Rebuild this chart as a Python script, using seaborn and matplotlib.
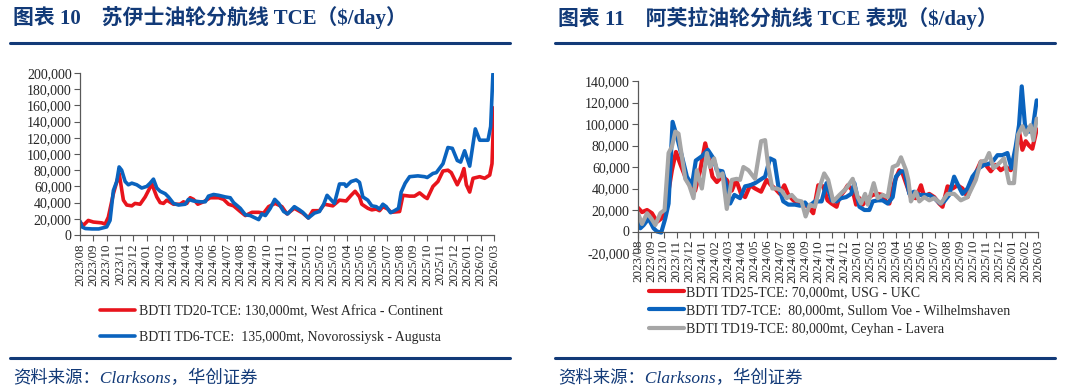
import numpy as np
import pandas as pd
import matplotlib
matplotlib.use("Agg")
import matplotlib.pyplot as plt
import seaborn as sns
from matplotlib.lines import Line2D
from matplotlib.ticker import FuncFormatter, MultipleLocator

sns.set_theme(style="white")
plt.rcParams["font.family"] = ["Liberation Serif", "Noto Sans CJK SC"]

# ---------------- data (values in $1,000/day; time in months since 2023/08) ----------------
month_labels = list(pd.date_range("2023-08-01", "2026-03-01", freq="MS").strftime("%Y/%m"))

td20_t = [0, 0.25, 0.62, 1.0, 1.62, 1.88, 2.12, 2.5, 2.93, 3.25, 3.5, 3.88, 4.12, 4.5, 4.88, 5.38, 5.75, 6.0, 6.25, 6.5,
          7.0, 7.5, 7.75, 8.0, 8.25, 8.5, 8.82, 9.25, 9.75, 10.38, 10.75, 11.12, 11.5, 12.0, 12.38, 12.88, 13.38, 13.75, 14.12, 14.62,
          15.12, 15.5, 16.05, 16.68, 17.1, 17.43, 17.93, 18.3, 18.93, 19.43, 19.93, 20.3, 20.6, 20.93, 21.1, 21.55, 21.85, 22.18, 22.43, 22.68,
          23.05, 23.3, 23.93, 24.18, 24.68, 25.05, 25.43, 25.8, 26.0, 26.43, 26.8, 27.18, 27.55, 27.8, 28.25, 28.55, 28.75, 28.93, 29.18, 29.43,
          29.93, 30.3, 30.68, 30.85, 31.0]
td20_v = [16, 12, 18, 16, 15, 13.5, 22, 51, 76, 43, 37, 36, 39, 38, 47, 63, 47, 40, 39, 43,
          38, 38, 41, 39, 46, 44, 38, 41, 46, 46, 44, 38, 36, 29, 24, 28, 28, 27, 35, 39,
          35, 26, 33, 27, 21, 30, 30, 38, 36, 43, 42, 49, 54, 47, 38, 33, 31, 32, 30, 35,
          32, 28, 29, 49, 48, 48, 52, 47, 45, 60, 66, 79, 80, 77, 62, 72, 82, 62, 53, 70,
          72, 70, 74, 88, 157]

td6_t = [0, 0.15, 0.4, 0.9, 1.4, 2.0, 2.25, 2.5, 2.75, 2.93, 3.12, 3.38, 3.62, 3.88, 4.25, 4.62, 5.0, 5.25, 5.5, 5.75,
         6.0, 6.38, 6.62, 7.0, 7.38, 7.88, 8.12, 8.5, 9.0, 9.38, 9.62, 10.0, 10.38, 10.88, 11.25, 11.5, 12.0, 12.38, 12.75, 13.0,
         13.38, 13.62, 13.88, 14.25, 14.58, 14.88, 15.25, 15.55, 16.05, 16.43, 16.68, 17.1, 17.55, 17.93, 18.25, 18.5, 19.05, 19.43, 19.8, 19.93,
         20.3, 20.68, 20.93, 21.18, 21.55, 21.85, 22.18, 22.43, 22.68, 22.93, 23.25, 23.55, 23.85, 24.05, 24.35, 24.68, 25.3, 25.8, 26.0, 26.43,
         26.68, 27.18, 27.55, 27.88, 28.25, 28.5, 28.8, 29.18, 29.6, 29.93, 30.55, 30.75, 30.92]
td6_v = [17, 10, 8, 7.5, 7.5, 10, 18, 55, 66, 84, 80, 66, 62, 64, 62, 58, 60, 64, 69, 58,
         54, 51, 47, 39, 37, 38, 44, 42, 41, 41, 48, 50, 49, 47, 46, 40, 33, 25, 24, 22,
         19, 26, 24, 33, 44, 39, 29, 26, 35, 31, 28, 21, 27, 29, 38, 49, 39, 63, 63, 60,
         66, 68, 65, 47, 43, 36, 35, 32, 38, 35, 27.5, 30, 33, 53, 64, 72, 73, 72, 71, 76,
         77, 88, 108, 107, 92, 90, 104, 85, 131, 117, 117, 134, 199]

td25_t = [0, 0.31, 0.7, 1.08, 1.47, 1.8, 2.11, 2.37, 2.63, 2.94, 3.27, 3.66, 4.05, 4.43, 4.82, 5.21, 5.52, 5.77, 6.11, 6.49,
          6.88, 7.27, 7.6, 7.99, 8.3, 8.69, 9.07, 9.54, 9.97, 10.31, 10.62, 11.0, 11.34, 11.65, 12.04, 12.42, 12.81, 13.2, 13.58, 13.97,
          14.36, 14.69, 15.0, 15.39, 15.61, 16.0, 16.26, 16.64, 16.9, 17.16, 17.42, 17.8, 18.19, 18.58, 18.96, 19.22, 19.48, 19.87, 20.25, 20.51,
          20.77, 21.15, 21.54, 21.93, 22.19, 22.57, 22.96, 23.35, 23.6, 23.99, 24.38, 24.76, 25.15, 25.54, 26.05, 26.57, 26.95, 27.34, 27.73, 28.11,
          28.5, 28.89, 29.27, 29.53, 29.79, 30.05, 30.3, 30.56, 30.9]
td25_v = [22, 18, 20, 17, 9, 12, 20, 38, 57, 74, 63, 51, 42, 38, 57, 82, 66, 51, 46, 51,
          48, 38, 48, 35, 32, 43, 40, 37, 48, 43, 40, 35, 43, 34, 29, 26, 25, 23, 17, 43,
          42, 29, 26, 23, 32, 38, 43, 38, 25, 31, 25, 31, 34, 35, 34, 28, 26, 46, 57, 54,
          45, 32, 31, 43, 32, 35, 32, 26, 23, 42, 40, 43, 40, 32, 51, 65, 62, 56, 62, 57,
          60, 57, 73, 93, 76, 84, 80, 77, 95]

td7_t = [0, 0.18, 0.44, 0.82, 1.21, 1.47, 1.8, 2.11, 2.37, 2.68, 3.02, 3.4, 3.79, 4.18, 4.48, 4.95, 5.41, 5.85, 6.11, 6.55,
         6.88, 7.14, 7.47, 7.91, 8.3, 8.69, 9.07, 9.46, 9.85, 10.23, 10.57, 10.88, 11.26, 11.65, 12.16, 12.55, 12.94, 13.2, 13.71, 14.23,
         14.61, 15.0, 15.39, 15.74, 16.13, 16.52, 16.77, 17.16, 17.55, 17.93, 18.19, 18.58, 18.96, 19.35, 19.74, 19.99, 20.38, 20.64, 21.03, 21.41,
         21.8, 22.57, 22.96, 23.42, 23.73, 24.12, 24.5, 24.81, 25.15, 25.54, 25.92, 26.44, 26.82, 27.21, 27.55, 27.86, 28.24, 28.63, 28.94, 29.27,
         29.53, 29.74, 29.99, 30.25, 30.56, 30.9]
td7_v = [8, 3, 6, 12, 3, 0, -1, 12, 26, 102, 88, 70, 51, 43, 66, 70, 76, 68, 57, 56,
         42, 26, 34, 31, 42, 43, 45, 48, 51, 68, 66, 42, 28, 25, 25, 24, 27, 23, 28, 28,
         45, 29, 28, 31, 32, 35, 45, 23, 20, 20, 28, 29, 29, 26, 32, 51, 56, 56, 35, 37,
         34, 34, 31, 26, 28, 34, 51, 43, 35, 40, 51, 59, 62, 63, 66, 71, 71, 73, 59, 79,
         99, 135, 99, 93, 93, 122]

td19_t = [0, 0.31, 0.7, 1.03, 1.34, 1.73, 2.06, 2.37, 2.63, 2.89, 3.14, 3.4, 3.66, 3.97, 4.3, 4.56, 4.95, 5.34, 5.59, 5.9,
          6.24, 6.55, 6.88, 7.27, 7.65, 7.91, 8.17, 8.56, 9.07, 9.54, 9.85, 10.1, 10.41, 10.75, 11.13, 11.52, 11.91, 12.29, 12.68, 12.99,
          13.32, 13.71, 14.1, 14.43, 14.74, 15.13, 15.61, 16.13, 16.64, 17.03, 17.29, 17.6, 17.8, 18.27, 18.58, 18.96, 19.35, 19.74, 20.12, 20.38,
          20.77, 20.95, 21.15, 21.54, 21.8, 22.19, 22.57, 22.96, 23.47, 23.99, 24.5, 25.02, 25.54, 26.18, 26.57, 26.95, 27.21, 27.55, 27.86, 28.37,
          28.76, 29.14, 29.45, 29.79, 30.05, 30.43, 30.64, 30.9]
td19_v = [17, 7, 17, 12, 6, 17, 20, 73, 79, 93, 91, 70, 49, 43, 31, 57, 40, 73, 60, 68,
          51, 54, 21, 48, 49, 48, 60, 57, 49, 84, 85, 60, 40, 40, 38, 31, 34, 29, 28, 14,
          25, 23, 42, 54, 48, 28, 34, 40, 49, 32, 26, 35, 25, 45, 31, 34, 32, 60, 62, 69,
          57, 48, 28, 37, 28, 32, 29, 31, 26, 35, 35, 29, 32, 48, 65, 66, 73, 59, 62, 68,
          45, 45, 90, 98, 90, 99, 85, 105]

left_labels = ["BDTI TD20-TCE: 130,000mt, West Africa - Continent",
               "BDTI TD6-TCE:  135,000mt, Novorossiysk - Augusta"]
right_labels = ["BDTI TD25-TCE: 70,000mt, USG - UKC",
                "BDTI TD7-TCE:  80,000mt, Sullom Voe - Wilhelmshaven",
                "BDTI TD19-TCE: 80,000mt, Ceyhan - Lavera"]
titles = ["图表 10    苏伊士油轮分航线 TCE（$/day）", "图表 11    阿芙拉油轮分航线 TCE 表现（$/day）"]
source = "资料来源：Clarksons，华创证券"

RED, BLUE, GRAY = "#E8141C", "#0A63BE", "#A6A6A6"
NAVY = "#123A78"
TXT = "#262626"

W, H = 1080, 390
fig = plt.figure(figsize=(W / 100, H / 100), dpi=100)


def fx(px):
    return px / W


def fy(py):
    return 1 - py / H


def style_axes(ax, ymin, ymax, zero_spine=False):
    for s in ["top", "right"]:
        ax.spines[s].set_visible(False)
    for s in ["left", "bottom"]:
        ax.spines[s].set_color("#595959")
        ax.spines[s].set_linewidth(0.9)
    if zero_spine:
        ax.spines["bottom"].set_position(("data", 0))
    ax.set_xlim(0, 31)
    ax.set_ylim(ymin, ymax)
    ax.set_xticks(range(len(month_labels)))
    ax.set_xticklabels(month_labels, rotation=90, fontsize=9.4, color=TXT)
    ax.yaxis.set_major_locator(MultipleLocator(20000))
    ax.yaxis.set_major_formatter(FuncFormatter(lambda v, p: f"{v:,.0f}"))
    ax.tick_params(axis="y", labelsize=10)
    ax.tick_params(axis="both", which="major", direction="out", length=4, width=0.8,
                   color="#595959", labelcolor=TXT, pad=2, bottom=True, left=True)
    ax.set_xlabel("")
    ax.set_ylabel("")
    ax.grid(False)
    ax.set_facecolor("none")


# ---------------- left chart ----------------
axL = fig.add_axes([fx(80), fy(235), fx(494) - fx(80), fy(73) - fy(235)])
sns.lineplot(x=td20_t, y=np.array(td20_v) * 1000, ax=axL, color=RED, lw=2.6, sort=False, estimator=None)
sns.lineplot(x=td6_t, y=np.array(td6_v) * 1000, ax=axL, color=BLUE, lw=2.6, sort=False, estimator=None)
style_axes(axL, 0, 200000)

hL = [Line2D([], [], color=RED, lw=2.6), Line2D([], [], color=BLUE, lw=2.6)]
fig.legend(hL, left_labels, loc="upper left", bbox_to_anchor=(fx(100), fy(305)), frameon=False,
           fontsize=10, handlelength=2.5, handletextpad=0.3, labelspacing=0.9, borderpad=0,
           borderaxespad=0, labelcolor=TXT)

# ---------------- right chart ----------------
axR = fig.add_axes([fx(638), fy(253), fx(1038) - fx(638), fy(81) - fy(253)])
sns.lineplot(x=td25_t, y=np.array(td25_v) * 1000, ax=axR, color=RED, lw=3.0, sort=False, estimator=None)
sns.lineplot(x=td7_t, y=np.array(td7_v) * 1000, ax=axR, color=BLUE, lw=3.0, sort=False, estimator=None)
sns.lineplot(x=td19_t, y=np.array(td19_v) * 1000, ax=axR, color=GRAY, lw=3.0, sort=False, estimator=None)
style_axes(axR, -20000, 140000, zero_spine=True)

hR = [Line2D([], [], color=RED, lw=3), Line2D([], [], color=BLUE, lw=3), Line2D([], [], color=GRAY, lw=3)]
fig.legend(hR, right_labels, loc="upper left", bbox_to_anchor=(fx(649), fy(286)), frameon=False,
           fontsize=10, handlelength=2.5, handletextpad=0.15, labelspacing=0.38, borderpad=0,
           borderaxespad=0, labelcolor=TXT)

# ---------------- titles, rules, source ----------------
for x0, x1, title in [(10, 510, titles[0]), (555, 1055, titles[1])]:
    fig.text(fx(x0 + 3), fy(18), title, ha="left", va="center", fontsize=15, weight="bold", color=NAVY)
    fig.add_artist(Line2D([fx(x0), fx(x1)], [fy(43), fy(43)], color=NAVY, lw=2.2))
    fig.add_artist(Line2D([fx(x0), fx(x1)], [fy(358), fy(358)], color=NAVY, lw=2.2))
    fig.text(fx(x0 + 3), fy(379), source, ha="left", va="center", fontsize=12.5, style="italic", color=NAVY)

fig.savefig("out.png", dpi=100, facecolor="white")
